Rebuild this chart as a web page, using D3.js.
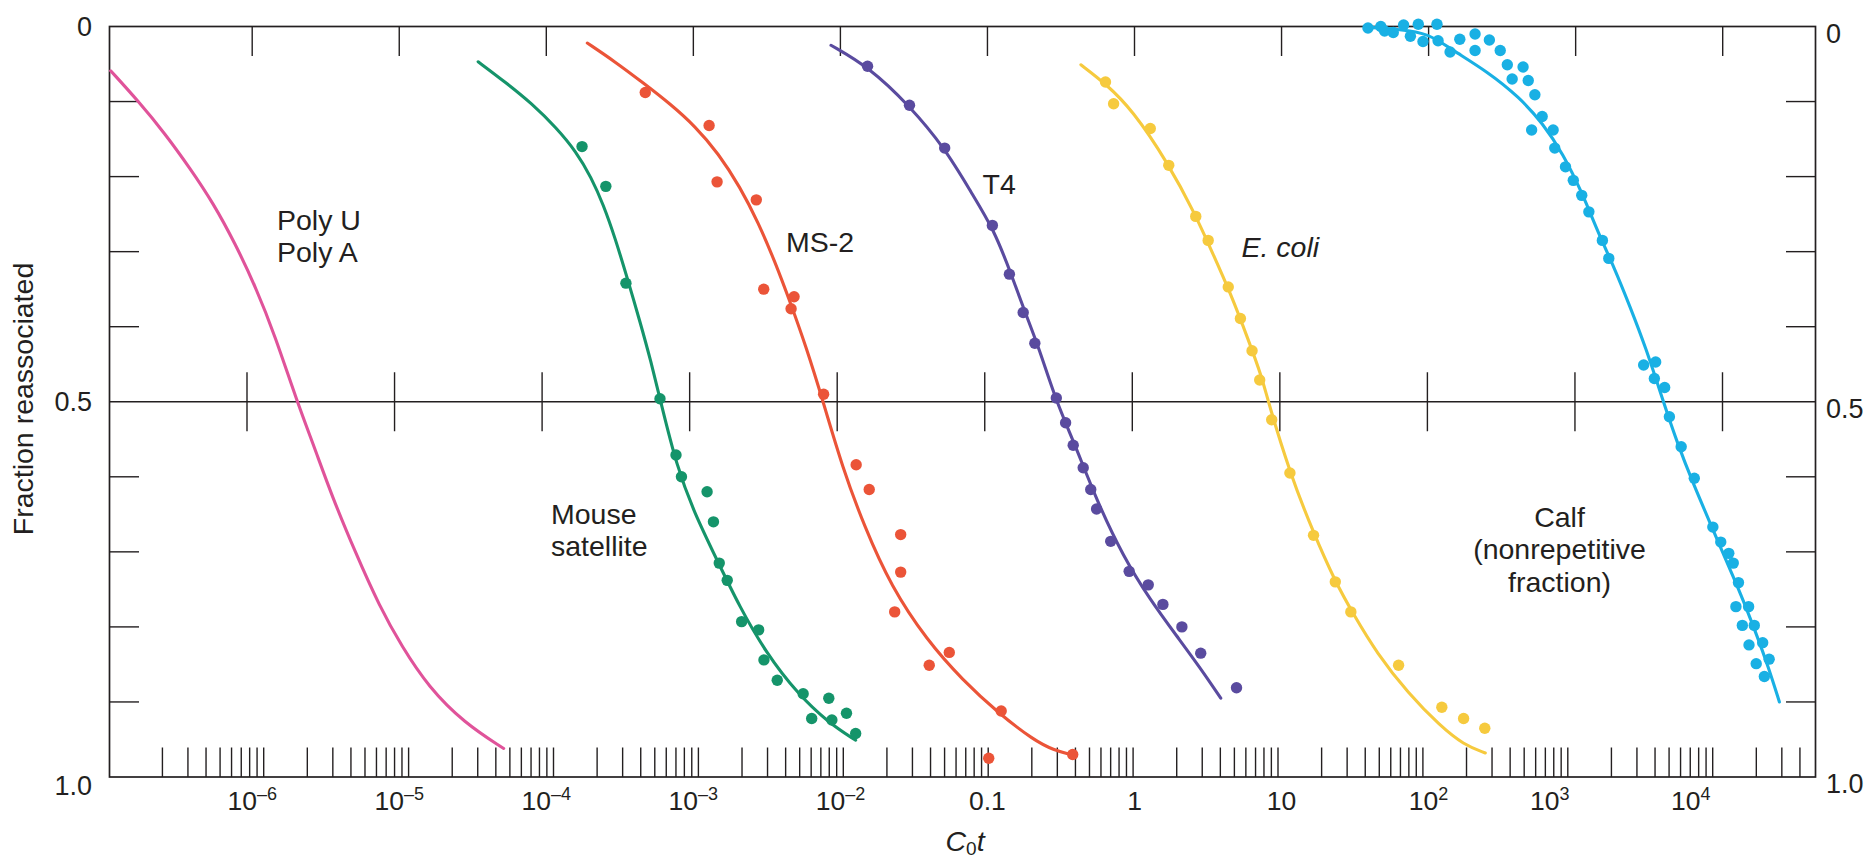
<!DOCTYPE html>
<html>
<head>
<meta charset="utf-8">
<title>Reassociation curves</title>
<script src="https://cdn.jsdelivr.net/npm/d3@7"></script>
<style>
  body { margin: 0; background: #fff; }
  svg { display: block; font-family: "Liberation Sans", Arial, Helvetica, sans-serif; }
  .lbl { font-size: 28.5px; fill: #231f20; }
  .tick-lbl { font-size: 26.5px; fill: #231f20; }
  .axis-lbl { font-size: 27px; fill: #231f20; }
</style>
</head>
<body>
<svg id="chart"></svg>
<script>
// values: [C0t, fraction reassociated]
const polyCurve = [
  [1.09e-7, 0.059], [1.69e-7, 0.100], [2.56e-7, 0.143], [3.78e-7, 0.189],
  [5.42e-7, 0.235], [7.65e-7, 0.289], [1.05e-6, 0.346], [1.43e-6, 0.412],
  [2.02e-6, 0.500], [2.64e-6, 0.560], [3.49e-6, 0.626], [5.01e-6, 0.700],
  [7.35e-6, 0.773], [1.04e-5, 0.826], [1.58e-5, 0.880], [2.77e-5, 0.928],
  [5.13e-5, 0.962]
];

const mouseCurve = [
  [3.44e-5, 0.047], [5.25e-5, 0.074], [8.02e-5, 0.103], [1.17e-4, 0.135],
  [1.60e-4, 0.167], [2.02e-4, 0.201], [2.44e-4, 0.237], [2.94e-4, 0.282],
  [3.55e-4, 0.335], [4.35e-4, 0.394], [5.16e-4, 0.447], [6.0e-4, 0.500],
  [7.73e-4, 0.587], [1.02e-3, 0.649], [1.45e-3, 0.711], [2.06e-3, 0.773],
  [3.13e-3, 0.835], [5.11e-3, 0.889], [8.34e-3, 0.928], [1.27e-2, 0.951]
];
const mouseDots = [
  [1.75e-4, 0.160], [2.54e-4, 0.213], [3.48e-4, 0.342], [5.93e-4, 0.496],
  [7.62e-4, 0.571], [8.30e-4, 0.600], [1.24e-3, 0.620], [1.37e-3, 0.660],
  [1.50e-3, 0.715], [1.70e-3, 0.738], [2.13e-3, 0.793], [2.78e-3, 0.804],
  [3.02e-3, 0.844], [3.72e-3, 0.871], [5.58e-3, 0.889], [8.34e-3, 0.895],
  [6.38e-3, 0.922], [8.75e-3, 0.924], [1.10e-2, 0.915], [1.27e-2, 0.942]
];

const ms2Curve = [
  [1.90e-4, 0.022], [2.94e-4, 0.047], [4.55e-4, 0.075], [6.95e-4, 0.103],
  [1.03e-3, 0.133], [1.48e-3, 0.169], [2.08e-3, 0.214], [2.76e-3, 0.261],
  [3.60e-3, 0.314], [4.55e-3, 0.367], [5.85e-3, 0.427], [7.64e-3, 0.500],
  [1.03e-2, 0.587], [1.46e-2, 0.667], [2.21e-2, 0.746], [3.88e-2, 0.818],
  [6.79e-2, 0.871], [0.119, 0.915], [0.207, 0.951], [0.281, 0.964], [0.38, 0.971]
];
const ms2Dots = [
  [4.71e-4, 0.088], [1.28e-3, 0.132], [1.45e-3, 0.207], [2.68e-3, 0.231],
  [3.01e-3, 0.350], [4.84e-3, 0.360], [4.62e-3, 0.376], [7.69e-3, 0.490],
  [1.28e-2, 0.584], [1.57e-2, 0.617], [2.57e-2, 0.677], [2.57e-2, 0.727],
  [2.34e-2, 0.780], [5.50e-2, 0.834], [4.02e-2, 0.851], [0.124, 0.912],
  [0.102, 0.975], [0.380, 0.970]
];

const t4Curve = [
  [8.63e-3, 0.025], [1.56e-2, 0.054], [2.93e-2, 0.105], [5.13e-2, 0.162],
  [7.80e-2, 0.222], [0.111, 0.271], [0.147, 0.333], [0.181, 0.382],
  [0.223, 0.427], [0.294, 0.500], [0.390, 0.555], [0.552, 0.631],
  [0.841, 0.707], [1.28, 0.764], [1.95, 0.813], [2.76, 0.853], [3.86, 0.895]
];
const t4Dots = [
  [1.53e-2, 0.053], [2.95e-2, 0.105], [5.12e-2, 0.162], [0.108, 0.265],
  [0.141, 0.330], [0.175, 0.381], [0.210, 0.422], [0.294, 0.495],
  [0.340, 0.528], [0.383, 0.558], [0.448, 0.588], [0.504, 0.617],
  [0.552, 0.643], [0.689, 0.686], [0.920, 0.726], [1.24, 0.744],
  [1.56, 0.770], [2.10, 0.800], [2.82, 0.835], [4.94, 0.881]
];

const coliCurve = [
  [0.432, 0.051], [0.635, 0.076], [0.966, 0.111], [1.69, 0.182],
  [2.57, 0.249], [3.40, 0.302], [4.51, 0.356], [5.96, 0.418],
  [7.35, 0.467], [8.11, 0.500], [11.4, 0.595], [16.5, 0.675],
  [23.2, 0.740], [30.6, 0.782], [44.4, 0.835], [72.9, 0.889],
  [120, 0.932], [173, 0.957], [243, 0.968]
];
const coliDots = [
  [0.635, 0.074], [0.721, 0.103], [1.28, 0.136], [1.71, 0.185],
  [2.61, 0.253], [3.17, 0.285], [4.34, 0.347], [5.25, 0.389],
  [6.30, 0.432], [7.10, 0.471], [8.57, 0.524], [11.4, 0.595],
  [16.5, 0.678], [23.2, 0.740], [29.6, 0.780], [62.5, 0.851],
  [123, 0.907], [173, 0.922], [241, 0.935]
];

const calfCurve = [
  [38.8, 0.001], [64.1, 0.004], [99.3, 0.009], [144, 0.031], [251, 0.060],
  [413, 0.094], [598, 0.129], [817, 0.169], [1110, 0.222], [1430, 0.276],
  [1820, 0.320], [2340, 0.373], [2990, 0.427], [3950, 0.500], [4910, 0.555],
  [6300, 0.609], [8070, 0.658], [10300, 0.707], [13200, 0.755],
  [16900, 0.809], [20400, 0.853], [24300, 0.900]
];
const calfDots = [
  [38.7, 0.002], [47.3, 0.000], [50.2, 0.006], [57.5, 0.008], [67.6, -0.002],
  [75.2, 0.013], [85.1, -0.003], [91.6, 0.020], [114, -0.003], [116, 0.019],
  [140, 0.034], [163, 0.017], [207, 0.010], [207, 0.032], [259, 0.018],
  [307, 0.032], [343, 0.051], [439, 0.054], [370, 0.070], [476, 0.072],
  [528, 0.091], [592, 0.120], [502, 0.138], [703, 0.138], [721, 0.162],
  [853, 0.187], [964, 0.205], [1100, 0.225], [1230, 0.247], [1520, 0.285],
  [1680, 0.309], [2900, 0.451], [3500, 0.447], [3430, 0.469], [4030, 0.481],
  [4340, 0.520], [5220, 0.560], [6410, 0.602], [8570, 0.667], [9700, 0.687],
  [11000, 0.702], [11800, 0.715], [12800, 0.741], [12300, 0.773],
  [15000, 0.773], [13600, 0.798], [16400, 0.798], [15100, 0.824],
  [18700, 0.821], [16900, 0.849], [20700, 0.843], [19200, 0.866]
];

// axis values
const decades = [-6, -5, -4, -3, -2, -1, 0, 1, 2, 3, 4];
const minorMultiples = [2, 3, 4, 5, 6, 7, 8, 9, 10];
const yTicks = [0.1, 0.2, 0.3, 0.4, 0.6, 0.7, 0.8, 0.9];
const yLabels = [0, 0.5, 1.0];

// layout
const width = 1870;
const height = 860;
const plotLeft = 109.5;
const plotRight = 1815.5;
const plotTop = 26.5;
const plotBottom = 777;
const tickLen = 29.5;
const ink = "#231f20";
const colors = ["#e0539a", "#15946a", "#eb5438", "#5a4b9f", "#f6ca3e", "#19b0e4"];
const labelNudge = { 3: -26, 4: -32 }; // the 10^3 and 10^4 labels sit left of their ticks

const svg = d3.select("#chart").attr("width", width).attr("height", height);

const xScale = d3.scaleLog().domain([1e-6, 1e4]).range([252.2, 1722.7]);
// the ticks on the 0.5 line and the short bottom ticks are drawn slightly off the top ones
const midScale = d3.scaleLog().domain([1e-6, 1e4]).range([247, 1722.5]);
const minorScale = d3.scaleLog().domain([1e-2, 1e2]).range([843.3, 1422.9]);
const yScale = d3.scaleLinear().domain([0, 1]).range([plotTop, plotBottom]);
const yMid = yScale(0.5);

const drawFrame = () => {
  svg.append("rect")
    .attr("x", plotLeft).attr("y", plotTop)
    .attr("width", plotRight - plotLeft).attr("height", plotBottom - plotTop)
    .attr("fill", "none").attr("stroke", ink).attr("stroke-width", 1.7);

  svg.append("line")
    .attr("x1", plotLeft).attr("x2", plotRight)
    .attr("y1", yMid).attr("y2", yMid)
    .attr("stroke", ink).attr("stroke-width", 1.5);
};

const drawTicks = () => {
  const g = svg.append("g").attr("stroke", ink).attr("stroke-width", 1.4);

  // decade ticks hanging from the top and crossing the 0.5 line
  decades.forEach((d) => {
    const x = xScale(Math.pow(10, d));
    const xm = midScale(Math.pow(10, d));
    g.append("line").attr("x1", x).attr("x2", x)
      .attr("y1", plotTop).attr("y2", plotTop + tickLen);
    g.append("line").attr("x1", xm).attr("x2", xm)
      .attr("y1", yMid - tickLen).attr("y2", yMid + tickLen);
  });

  // 2..10 ticks in every decade along the bottom
  const minor = [];
  d3.range(-7, 5).forEach((e) => {
    minorMultiples.forEach((m) => minor.push(m * Math.pow(10, e)));
  });
  minor
    .filter((v) => minorScale(v) > plotLeft + 20 && minorScale(v) < plotRight - 10)
    .forEach((v) => {
      const x = minorScale(v);
      g.append("line").attr("x1", x).attr("x2", x)
        .attr("y1", plotBottom - tickLen).attr("y2", plotBottom);
    });

  yTicks.forEach((t) => {
    const y = yScale(t);
    g.append("line").attr("x1", plotLeft).attr("x2", plotLeft + tickLen)
      .attr("y1", y).attr("y2", y);
    g.append("line").attr("x1", plotRight - tickLen).attr("x2", plotRight)
      .attr("y1", y).attr("y2", y);
  });
};

const drawAxisText = () => {
  decades.forEach((d) => {
    const t = svg.append("text")
      .attr("class", "tick-lbl")
      .attr("x", xScale(Math.pow(10, d)) + (labelNudge[d] || 0))
      .attr("y", 810)
      .attr("text-anchor", "middle");
    if (d === -1) t.text("0.1");
    else if (d === 0) t.text("1");
    else if (d === 1) t.text("10");
    else {
      t.append("tspan").text("10");
      t.append("tspan").attr("dy", -10).attr("font-size", "18px")
        .text(d < 0 ? "\u2013" + Math.abs(d) : String(d));
    }
  });

  yLabels.forEach((v) => {
    const txt = v === 0 ? "0" : v.toFixed(1);
    svg.append("text").attr("class", "axis-lbl")
      .attr("x", 92).attr("y", yScale(v) + (v === 1 ? 9 : 0))
      .attr("dy", "0.35em").attr("text-anchor", "end").text(txt);
    svg.append("text").attr("class", "axis-lbl")
      .attr("x", 1826).attr("y", yScale(v) + 7)
      .attr("dy", "0.35em").attr("text-anchor", "start").text(txt);
  });

  svg.append("text")
    .attr("class", "lbl")
    .attr("transform", "translate(33,399) rotate(-90)")
    .attr("text-anchor", "middle")
    .text("Fraction reassociated");

  const xt = svg.append("text").attr("class", "lbl")
    .attr("x", 965).attr("y", 851).attr("text-anchor", "middle");
  xt.append("tspan").attr("font-style", "italic").text("C");
  xt.append("tspan").attr("font-size", "19px").attr("dy", 4).text("0");
  xt.append("tspan").attr("font-style", "italic").attr("dy", -4).text("t");
};

const drawSeries = () => {
  const line = d3.line()
    .x((d) => xScale(d[0]))
    .y((d) => yScale(d[1]))
    .curve(d3.curveBasis);

  const series = [
    { curve: polyCurve, dots: [] },
    { curve: mouseCurve, dots: mouseDots },
    { curve: ms2Curve, dots: ms2Dots },
    { curve: t4Curve, dots: t4Dots },
    { curve: coliCurve, dots: coliDots },
    { curve: calfCurve, dots: calfDots }
  ];

  series.forEach((s, i) => {
    svg.append("path")
      .datum(s.curve)
      .attr("d", line)
      .attr("fill", "none")
      .attr("stroke", colors[i])
      .attr("stroke-width", 3.1)
      .attr("stroke-linecap", "round");

    svg.append("g")
      .selectAll("circle")
      .data(s.dots)
      .enter()
      .append("circle")
      .attr("cx", (d) => xScale(d[0]))
      .attr("cy", (d) => yScale(d[1]))
      .attr("r", 5.7)
      .attr("fill", colors[i]);
  });
};

const drawLabels = () => {
  const put = (lines, x, y0, anchor, italic) => {
    lines.forEach((s, k) => {
      svg.append("text").attr("class", "lbl")
        .attr("x", x).attr("y", y0 + k * 32.5)
        .attr("text-anchor", anchor)
        .attr("font-style", italic ? "italic" : "normal")
        .text(s);
    });
  };
  put(["Poly U", "Poly A"], 277, 229.5, "start");
  put(["Mouse", "satellite"], 551, 523.5, "start");
  put(["MS-2"], 786, 251.5, "start");
  put(["T4"], 982.5, 193.5, "start");
  put(["E. coli"], 1241.5, 257, "start", true);
  put(["Calf", "(nonrepetitive", "fraction)"], 1559.5, 526.5, "middle");
};

drawFrame();
drawTicks();
drawSeries();
drawAxisText();
drawLabels();
</script>
</body>
</html>
